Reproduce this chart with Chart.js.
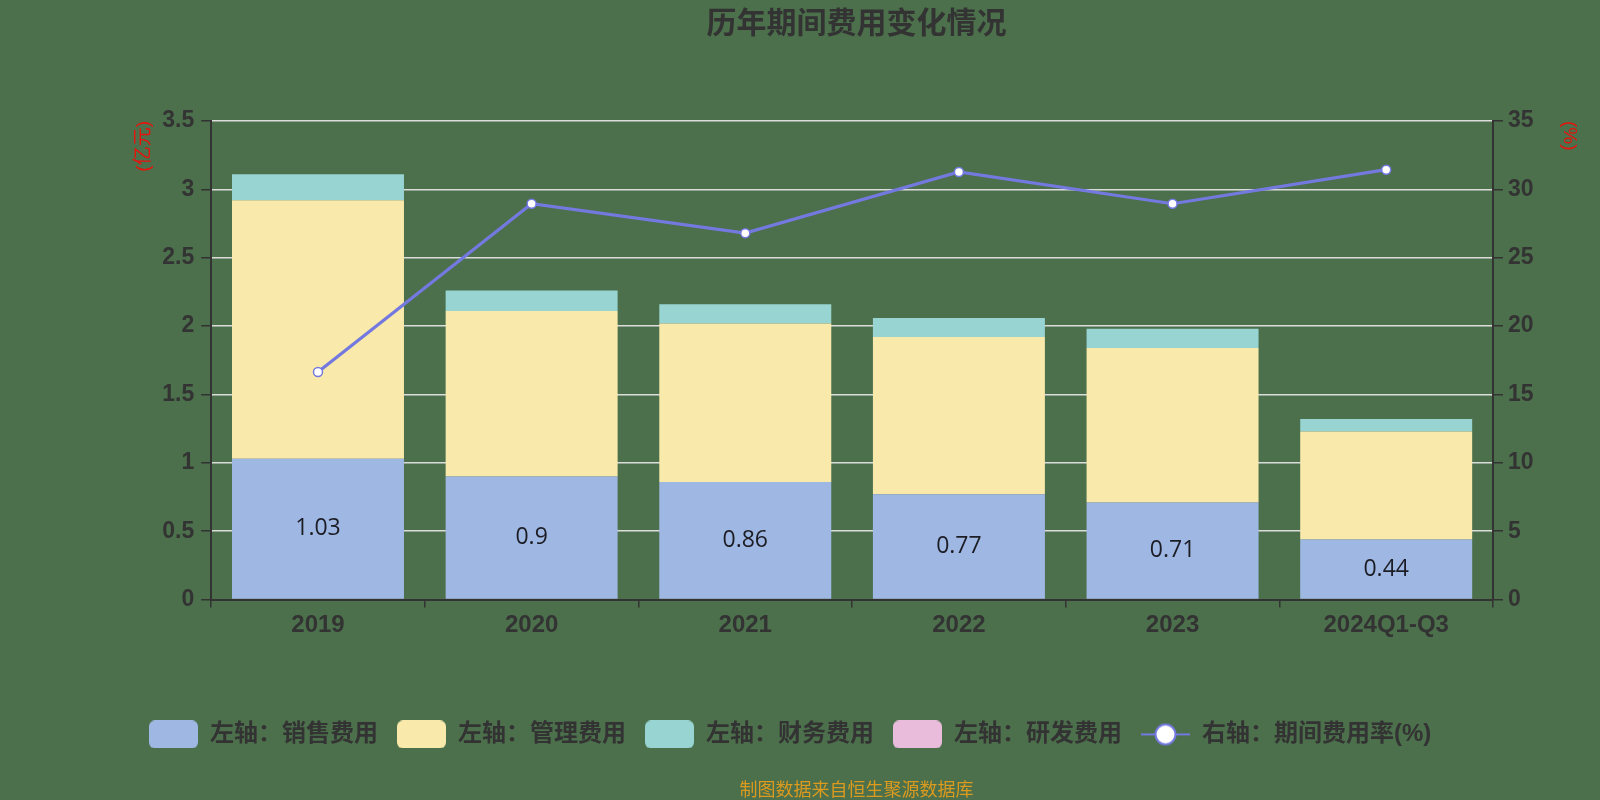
<!DOCTYPE html>
<html>
<head>
<meta charset="utf-8">
<script src="https://cdn.jsdelivr.net/npm/chart.js@4/dist/chart.umd.min.js"></script>
<style>
  html, body { margin: 0; padding: 0; background: #4b704b; }
  #wrap { width: 1600px; height: 800px; }
</style>
</head>
<body>
<div id="wrap"><canvas id="myChart" width="1600" height="800"></canvas></div>
<script>
// data
let years = ['2019', '2020', '2021', '2022', '2023', '2024Q1-Q3'];
let sales = [1.03, 0.9, 0.86, 0.77, 0.71, 0.44];
let admin = [1.89, 1.21, 1.16, 1.15, 1.13, 0.79];
let finance = [0.19, 0.15, 0.14, 0.14, 0.14, 0.09];
let rnd = [0, 0, 0, 0, 0, 0];
let rate = [16.65, 28.95, 26.8, 31.27, 28.95, 31.44];

let leftTicks = [0, 0.5, 1, 1.5, 2, 2.5, 3, 3.5];
let rightTicks = [0, 5, 10, 15, 20, 25, 30, 35];

const BG = '#4b704b';
const DARK = '#333333';
const LINE = '#7479e0';

Chart.defaults.font.family = '"Liberation Sans", "Noto Sans CJK SC", sans-serif';
Chart.defaults.color = DARK;

function boxIcon(color){
    let c = document.createElement('canvas');
    c.width = 49; c.height = 28;
    let g = c.getContext('2d');
    g.fillStyle = color;
    g.beginPath();
    g.roundRect(0, 0, 49, 28, 6);
    g.fill();
    return c;
}

function lineIcon(){
    let c = document.createElement('canvas');
    c.width = 49; c.height = 28;
    let g = c.getContext('2d');
    g.strokeStyle = LINE;
    g.lineWidth = 2;
    g.beginPath();
    g.moveTo(0, 14); g.lineTo(49, 14);
    g.stroke();
    g.fillStyle = '#fff';
    g.beginPath();
    g.arc(24.5, 14, 10, 0, Math.PI * 2);
    g.fill();
    g.stroke();
    return c;
}

const bgPlugin = {
    id: 'bg',
    beforeDraw(chart){
        let ctx = chart.ctx;
        ctx.save();
        ctx.fillStyle = BG;
        ctx.fillRect(0, 0, chart.width, chart.height);
        ctx.restore();
    }
};

const labelPlugin = {
    id: 'barLabels',
    afterDatasetsDraw(chart){
        let ctx = chart.ctx;
        let meta = chart.getDatasetMeta(0);
        ctx.save();
        ctx.font = '23px "Open Sans", "Liberation Sans", sans-serif';
        ctx.fillStyle = '#1c1c24';
        ctx.textAlign = 'center';
        ctx.textBaseline = 'middle';
        meta.data.forEach((bar, i) => {
            ctx.fillText(String(sales[i]), bar.x, (bar.y + bar.base) / 2);
        });
        ctx.restore();
    }
};

let icons = [boxIcon('#9fb8e3'), boxIcon('#f9e9aa'), boxIcon('#97d4d2'), boxIcon('#e8bcda'), lineIcon()];

let ctx = document.getElementById('myChart').getContext('2d');
let chart = new Chart(ctx, {
    data: {
        labels: years,
        datasets: [
            { type: 'bar', label: '左轴：销售费用', data: sales, backgroundColor: '#9fb8e3', yAxisID: 'y', order: 1 },
            { type: 'bar', label: '左轴：管理费用', data: admin, backgroundColor: '#f9e9aa', yAxisID: 'y', order: 1 },
            { type: 'bar', label: '左轴：财务费用', data: finance, backgroundColor: '#97d4d2', yAxisID: 'y', order: 1 },
            { type: 'bar', label: '左轴：研发费用', data: rnd, backgroundColor: '#e8bcda', yAxisID: 'y', order: 1 },
            {
                type: 'line', label: '右轴：期间费用率(%)', data: rate, yAxisID: 'y1', order: 0,
                borderColor: LINE, borderWidth: 3.2,
                pointRadius: 4.5, pointBackgroundColor: '#fff', pointBorderColor: LINE, pointBorderWidth: 1.5
            }
        ]
    },
    options: {
        responsive: false,
        animation: false,
        layout: { padding: { left: 130, right: 17, top: 0, bottom: 0 } },
        datasets: { bar: { categoryPercentage: 1, barPercentage: 0.805 } },
        scales: {
            x: {
                stacked: true,
                grid: { display: true, drawOnChartArea: false, tickLength: 8, color: DARK, tickColor: DARK, lineWidth: 1.5 },
                border: { display: true, color: DARK, width: 2 },
                ticks: { font: { size: 24, weight: 'bold' }, color: DARK, padding: 3 },
                title: { display: true, text: '', font: { size: 10 }, padding: { top: 0, bottom: 49 } }
            },
            y: {
                stacked: true,
                position: 'left',
                min: 0, max: 3.5,
                afterBuildTicks: (s) => { s.ticks = leftTicks.map(v => ({ value: v })); },
                grid: { color: '#dcdcdc', lineWidth: 1.5, tickLength: 10, tickColor: DARK },
                border: { display: true, color: DARK, width: 2 },
                ticks: { font: { size: 23, weight: 'bold' }, color: DARK, padding: 7, callback: (v) => String(v) },
                title: { display: true, text: '(亿元)', color: '#e8120c', align: 'end', font: { size: 19 }, padding: { top: 2.4, bottom: 0 } }
            },
            y1: {
                position: 'right',
                min: 0, max: 35,
                afterBuildTicks: (s) => { s.ticks = rightTicks.map(v => ({ value: v })); },
                grid: { drawOnChartArea: false, tickLength: 10, tickColor: DARK, lineWidth: 1.5 },
                border: { display: true, color: DARK, width: 2 },
                ticks: { font: { size: 23, weight: 'bold' }, color: DARK, padding: 5, callback: (v) => String(v) },
                title: { display: true, text: '(%)', color: '#e8120c', align: 'end', font: { size: 19 }, padding: { top: 2, bottom: 19.6 } }
            }
        },
        plugins: {
            title: {
                display: true,
                text: '历年期间费用变化情况',
                color: DARK,
                font: { size: 30, weight: 'bold' },
                padding: { top: 7, bottom: 78 }
            },
            subtitle: {
                display: true,
                position: 'bottom',
                text: '制图数据来自恒生聚源数据库',
                color: '#dc9a1e',
                font: { size: 18, lineHeight: 1 },
                padding: { top: 25.6, bottom: 0 }
            },
            legend: {
                position: 'bottom',
                align: 'start',
                labels: {
                    usePointStyle: true,
                    pointStyleWidth: 49,
                    padding: 19,
                    color: DARK,
                    font: { size: 24, weight: 'bold' },
                    generateLabels(chart){
                        let items = Chart.defaults.plugins.legend.labels.generateLabels(chart);
                        items.sort((a, b) => a.datasetIndex - b.datasetIndex);
                        items.forEach((it) => { it.pointStyle = icons[it.datasetIndex]; });
                        return items;
                    }
                }
            },
            tooltip: { enabled: false }
        }
    },
    plugins: [bgPlugin, labelPlugin]
});
</script>
</body>
</html>
